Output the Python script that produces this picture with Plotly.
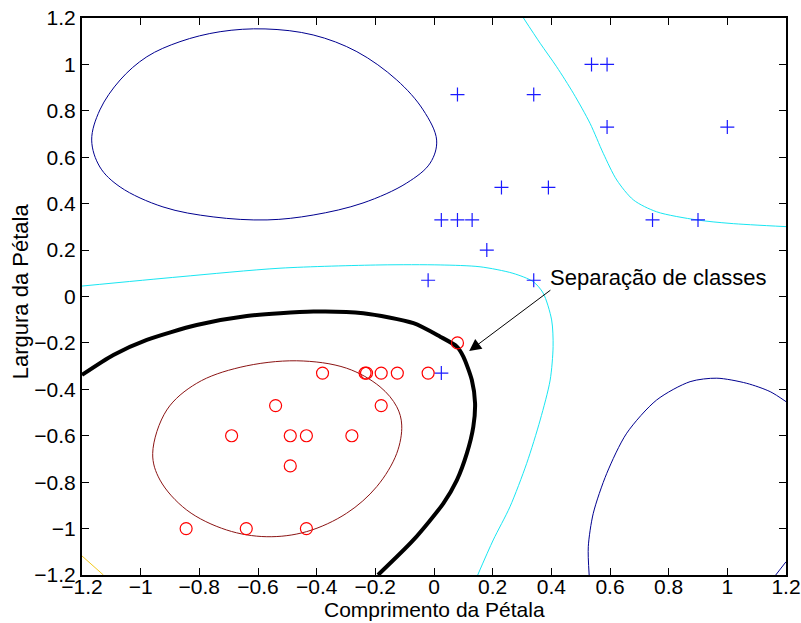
import plotly.graph_objects as go

# ---- tick labels ----
tick_vals = [-1.2, -1.0, -0.8, -0.6, -0.4, -0.2, 0.0, 0.2, 0.4, 0.6, 0.8, 1.0, 1.2]
tick_text = ["\u22121.2", "\u22121", "\u22120.8", "\u22120.6", "\u22120.4", "\u22120.2", "0",
             "0.2", "0.4", "0.6", "0.8", "1", "1.2"]

# ---- class +1 samples (blue plus) ----
plus_x = [0.537, 0.59, 0.08, 0.34, 0.59, 1.0, 0.23, 0.39, 0.025, 0.08, 0.13, 0.745, 0.90, 0.18, -0.02, 0.34, 0.025]
plus_y = [1.0, 1.0, 0.87, 0.87, 0.73, 0.73, 0.47, 0.47, 0.33, 0.33, 0.33, 0.33, 0.33, 0.2, 0.07, 0.07, -0.33]

# ---- class -1 samples (red circles) ----
circ_x = [0.08, -0.02, -0.125, -0.18, -0.23, -0.235, -0.38, -0.54, -0.18, -0.69, -0.49, -0.435, -0.28, -0.49, -0.845, -0.64, -0.435]
circ_y = [-0.2, -0.33, -0.33, -0.33, -0.33, -0.33, -0.33, -0.47, -0.47, -0.6, -0.6, -0.6, -0.6, -0.73, -1.0, -1.0, -1.0]

# ---- contour curves ----
navy1_x = [-1.167, -1.139, -1.070, -0.979, -0.866, -0.729, -0.576, -0.412, -0.263, -0.127, -0.037, 0.009,
           -0.013, -0.093, -0.242, -0.412, -0.569, -0.753, -0.924, -1.070, -1.139, -1.167]
navy1_y = [0.674, 0.804, 0.933, 1.033, 1.098, 1.141, 1.153, 1.127, 1.055, 0.933, 0.804, 0.674,
           0.575, 0.489, 0.403, 0.351, 0.330, 0.343, 0.386, 0.472, 0.558, 0.674]

navy2_x = [0.529, 0.526, 0.543, 0.589, 0.657, 0.759, 0.873, 0.964, 1.066, 1.146, 1.2]
navy2_y = [-1.2, -1.078, -0.934, -0.762, -0.589, -0.446, -0.367, -0.352, -0.374, -0.410, -0.453]

navy3_x = [1.165, 1.2]
navy3_y = [-1.2, -1.143]

cyan1_x = [0.305, 0.362, 0.418, 0.475, 0.532, 0.577, 0.623, 0.680, 0.759, 0.896, 1.009, 1.2]
cyan1_y = [1.2, 1.091, 0.990, 0.876, 0.746, 0.617, 0.502, 0.416, 0.365, 0.330, 0.315, 0.301]

cyan2_x = [-1.2, -0.866, -0.525, -0.184, 0.021, 0.157, 0.269, 0.338, 0.372, 0.401, 0.406, 0.396,
           0.362, 0.316, 0.259, 0.202, 0.149]
cyan2_y = [0.045, 0.085, 0.122, 0.136, 0.136, 0.128, 0.100, 0.064, 0.015, -0.101, -0.216, -0.360,
           -0.532, -0.719, -0.906, -1.049, -1.2]

black_x = [-1.2, -1.093, -0.979, -0.809, -0.638, -0.411, -0.241, -0.070, 0.021, 0.078, 0.100, 0.129,
           0.140, 0.134, 0.112, 0.078, 0.032, -0.070, -0.191]
black_y = [-0.338, -0.252, -0.187, -0.123, -0.084, -0.065, -0.072, -0.115, -0.173, -0.216, -0.259, -0.360,
           -0.460, -0.561, -0.676, -0.791, -0.891, -1.049, -1.2]

red_x = [-0.959, -0.911, -0.809, -0.661, -0.468, -0.298, -0.184, -0.127, -0.110, -0.127, -0.195, -0.298,
         -0.434, -0.570, -0.707, -0.843, -0.934, -0.959]
red_y = [-0.676, -0.489, -0.374, -0.305, -0.277, -0.309, -0.389, -0.475, -0.554, -0.676, -0.819, -0.934,
         -1.013, -1.035, -1.006, -0.920, -0.791, -0.676]

yellow_x = [-1.2, -1.127]
yellow_y = [-1.118, -1.2]

x_title = "Comprimento da Pétala"
y_title = "Largura da Pétala"
note_text = "Separação de classes"

NAVY = "#00008F"
CYAN = "#18E6F2"
DARKRED = "#8B1414"
YELLOW = "#F2C81C"

fig = go.Figure()


def curve(xs, ys, color, width=1.0, smooth=0.8):
    fig.add_trace(go.Scatter(x=xs, y=ys, mode="lines",
                             line=dict(color=color, width=width, shape="spline", smoothing=smooth),
                             hoverinfo="skip", showlegend=False))


curve(navy1_x, navy1_y, NAVY, smooth=1.0)
curve(navy2_x, navy2_y, NAVY)
curve(navy3_x, navy3_y, NAVY)
curve(cyan1_x, cyan1_y, CYAN)
curve(cyan2_x, cyan2_y, CYAN)
curve(red_x, red_y, DARKRED, smooth=1.0)
curve(yellow_x, yellow_y, YELLOW)
curve(black_x, black_y, "black", width=4, smooth=0.7)

fig.add_trace(go.Scatter(x=plus_x, y=plus_y, mode="markers", showlegend=False,
                         marker=dict(symbol="cross-thin-open", size=10, color="#1A1AFF",
                                     line=dict(color="#1A1AFF", width=1.2))))
fig.add_trace(go.Scatter(x=circ_x, y=circ_y, mode="markers", showlegend=False,
                         marker=dict(symbol="circle-open", size=12, color="#FF0000",
                                     line=dict(color="#FF0000", width=1.2))))

FONT = "Liberation Sans, Arial, Helvetica, sans-serif"
FS = 22
TFS = 21

# arrow
fig.add_annotation(x=0.12, y=-0.235, ax=0.402, ay=0.032, xref="x", yref="y", axref="x", ayref="y",
                   text="", showarrow=True, arrowhead=2, arrowsize=2.4, arrowwidth=1, arrowcolor="black")
# label
fig.add_annotation(x=0.402, y=0.083, xref="x", yref="y", text=note_text,
                   showarrow=False, xanchor="left", yanchor="middle", xshift=-4,
                   font=dict(family=FONT, size=FS, color="black"))

# axis titles
fig.add_annotation(x=0.5, y=-0.0619, xref="paper", yref="paper", text=x_title, showarrow=False,
                   xanchor="center", yanchor="middle", font=dict(family=FONT, size=21, color="black"))
fig.add_annotation(x=-0.087, y=0.509, xref="paper", yref="paper", text=y_title, showarrow=False,
                   textangle=-90, xanchor="center", yanchor="middle",
                   font=dict(family=FONT, size=FS, color="black"))

axis_common = dict(range=[-1.2, 1.2], tickvals=tick_vals, ticktext=tick_text,
                   ticks="inside", ticklen=7, tickwidth=1, tickcolor="black",
                   showline=True, linecolor="black", linewidth=2, mirror="ticks",
                   showgrid=False, zeroline=False, automargin=False, ticklabeloverflow="allow",
                   tickfont=dict(family=FONT, size=TFS, color="black"))

fig.update_xaxes(**axis_common, ticklabelstandoff=-8)
fig.update_yaxes(**axis_common)

fig.update_layout(width=801, height=623, margin=dict(l=82, r=15, t=18, b=48),
                  plot_bgcolor="white", paper_bgcolor="white")

fig.write_html("out.html")
